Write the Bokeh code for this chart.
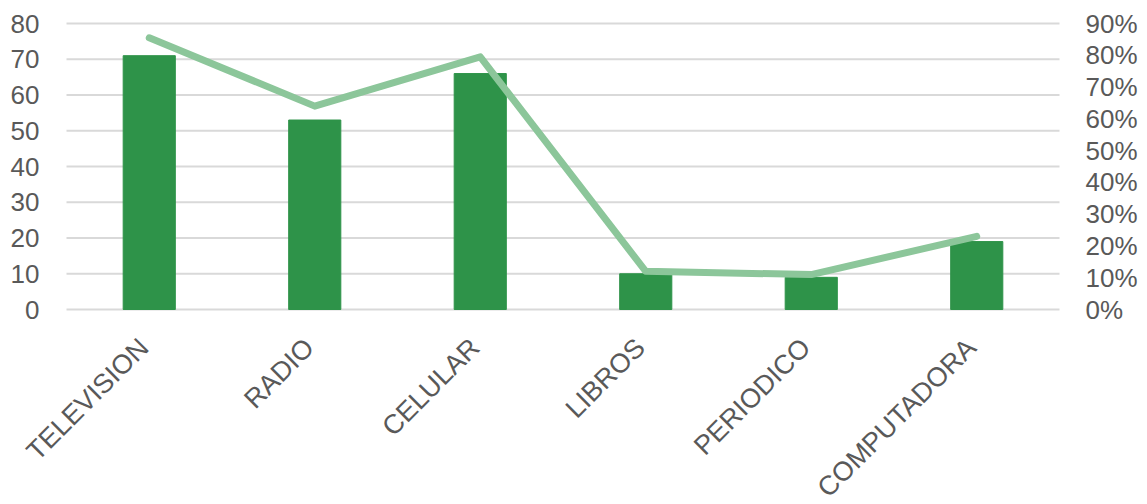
import math
from bokeh.plotting import figure
from bokeh.models import Range1d, ColumnDataSource, LabelSet
from bokeh.core.properties import value
from bokeh.embed import file_html
from bokeh.resources import INLINE

categories = ["TELEVISION", "RADIO", "CELULAR", "LIBROS", "PERIODICO", "COMPUTADORA"]
counts = [71, 53, 66, 10, 9, 19]
percents = [0.855, 0.64, 0.795, 0.12, 0.11, 0.23]
left_ticks = [0, 10, 20, 30, 40, 50, 60, 70, 80]
right_ticks = [0, 0.1, 0.2, 0.3, 0.4, 0.5, 0.6, 0.7, 0.8, 0.9]
right_tick_labels = ["0%", "10%", "20%", "30%", "40%", "50%", "60%", "70%", "80%", "90%"]

FONT = "Liberation Sans"
TXT = "#595959"

# page layout in pixels: plot area x 66..1059, y 23 (top) .. 309 (zero line)
W, H = 1147, 504
PL, PR, PT, PZ = 66, 1059, 23, 309
n = len(categories)
xs = [i + 0.5 for i in range(n)]           # category slots 0..n
ux = (PR - PL) / n                           # px per slot
uy_l = (PZ - PT) / left_ticks[-1]            # px per count unit
uy_r = (PZ - PT) / right_ticks[-1]           # px per fraction unit

p = figure(width=W, height=H, output_backend="svg", toolbar_location=None,
           x_range=Range1d(-PL / ux, n + (W - PR) / ux),
           y_range=Range1d(-(H - PZ) / uy_l, left_ticks[-1] + PT / uy_l),
           min_border=0)
p.extra_y_ranges = {"pct": Range1d(-(H - PZ) / uy_r, right_ticks[-1] + PT / uy_r)}
p.axis.visible = False
p.grid.visible = False
p.outline_line_color = None
p.background_fill_color = "white"

# horizontal gridlines across the category area
p.segment(x0=[0] * len(left_ticks), x1=[n] * len(left_ticks), y0=left_ticks, y1=left_ticks,
          line_color="#D9D9D9", line_width=2)

p.vbar(x=xs, top=counts, width=0.315, color="#2E9349")
p.line(x=xs, y=percents, y_range_name="pct", line_color="#8CC69A", line_width=7,
       line_cap="round", line_join="round")

# left tick labels
lsrc = ColumnDataSource(dict(x=[0] * len(left_ticks), y=left_ticks, t=[str(v) for v in left_ticks]))
p.add_layout(LabelSet(x="x", y="y", text="t", source=lsrc, x_offset=-27,
                      text_align="right", text_baseline="middle",
                      text_font=value(FONT), text_font_size="26px", text_color=TXT))

# right tick labels (percent axis)
rsrc = ColumnDataSource(dict(x=[n] * len(right_ticks), y=right_ticks, t=right_tick_labels))
p.add_layout(LabelSet(x="x", y="y", text="t", source=rsrc, y_range_name="pct", x_offset=26,
                      text_align="left", text_baseline="middle",
                      text_font=value(FONT), text_font_size="26px", text_color=TXT))

# rotated category labels
csrc = ColumnDataSource(dict(x=xs, y=[0] * n, t=categories))
p.add_layout(LabelSet(x="x", y="y", text="t", source=csrc, angle=math.pi / 4,
                      text_align="right", text_baseline="top", x_offset=-16, y_offset=-23,
                      text_font=value(FONT), text_font_size="27px", text_color=TXT))

open("out.html", "w").write(file_html(p, INLINE))
